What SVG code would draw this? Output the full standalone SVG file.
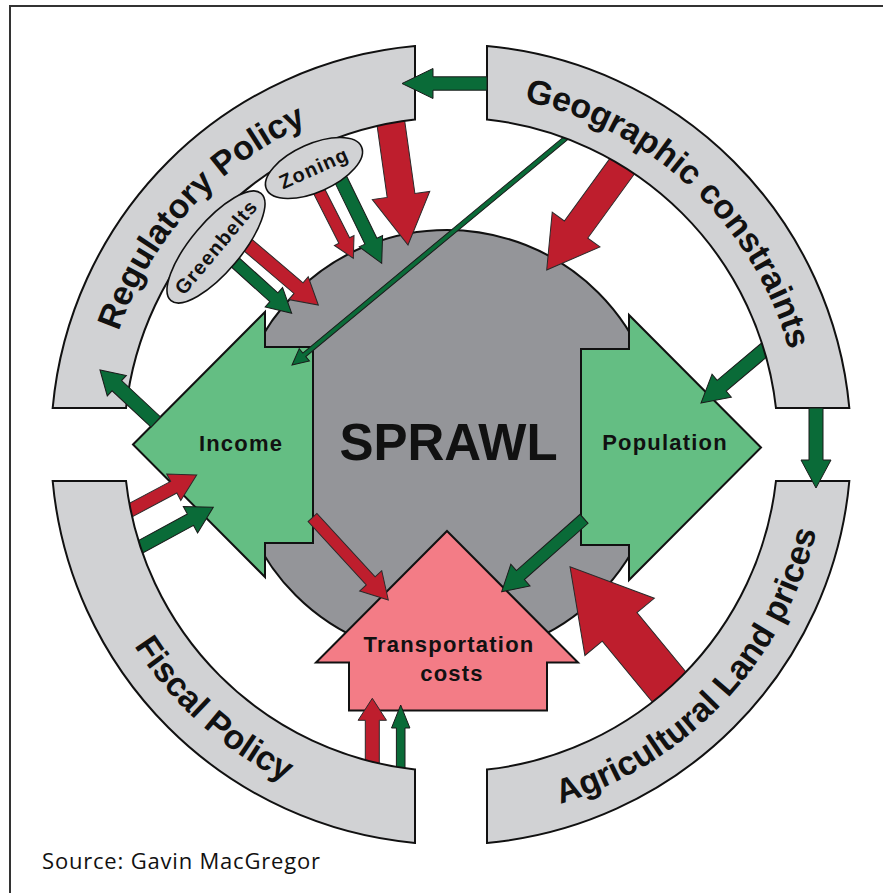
<svg xmlns="http://www.w3.org/2000/svg" width="883" height="893" viewBox="0 0 883 893">
  <style>
    .ring { fill: #D1D2D4; stroke: #111; stroke-width: 2; }
    .ringtxt { font-family: "Liberation Sans", Arial, sans-serif; font-weight: bold; font-size: 34px; fill: #111; }
    .hub { fill: #949599; stroke: #111; stroke-width: 2; }
    .gnode { fill: #64BE83; stroke: #111; stroke-width: 2; }
    .pnode { fill: #F37C86; stroke: #111; stroke-width: 2; }
    .lbl { font-family: "Liberation Sans", Arial, sans-serif; font-weight: bold; font-size: 22px; letter-spacing: 1.2px; fill: #111; text-anchor: middle; }
    .oval { fill: #D1D2D4; stroke: #111; stroke-width: 1.6; }
    .ovaltxt { font-family: "Liberation Sans", Arial, sans-serif; font-weight: bold; font-size: 20px; letter-spacing: 1.2px; fill: #111; text-anchor: middle; }
    .red { fill: #BE1E2D; stroke: #2a2a2a; stroke-width: 1; }
    .grn { fill: #0A6B38; stroke: #1a1a1a; stroke-width: 1; }
  </style>
  <defs>
    <path id="arc-reg" d="M100,444.5 A351,351 0 0,1 451,93.5"/>
    <path id="arc-geo" d="M451,93.5 A351,351 0 0,1 802,444.5"/>
    <path id="arc-agr" d="M451,820 A375.5,375.5 0 0,0 826.5,444.5"/>
    <path id="arc-fis" d="M75.5,444.5 A375.5,375.5 0 0,0 451,820"/>
  </defs>

  <rect x="10" y="6" width="900" height="900" fill="#fff" stroke="#333" stroke-width="2"/>

  <!-- central hub -->
  <g id="sprawl">
    <circle class="hub" cx="447" cy="444" r="214"/>
    <text x="448.5" y="460" font-family="Liberation Sans, Arial, sans-serif" font-weight="bold" font-size="51" fill="#111" text-anchor="middle">SPRAWL</text>
  </g>

  <g id="income">
    <polygon class="gnode" points="133,444.5 265,312 265,347 313,347 313,543 265,543 265,577"/>
    <text class="lbl" x="241" y="451">Income</text>
  </g>

  <g id="population">
    <polygon class="gnode" points="761,447.5 629,315 629,349 581,349 581,545 629,545 629,580"/>
    <text class="lbl" x="665" y="450">Population</text>
  </g>

  <g id="transportation">
    <polygon class="pnode" points="447,531 578,662.5 547,662.5 547,710.5 349,710.5 349,662.5 316,662.5"/>
    <text class="lbl" x="449" y="652">Transportation</text>
    <text class="lbl" x="452" y="681">costs</text>
  </g>

  <!-- connectors whose tails sit beneath the outer ring -->
  <g id="connectors-under">
    <polygon class="red" transform="translate(408 245) rotate(82)" points="0,0 -50,-29 -50,-14 -134,-14 -134,14 -50,14 -50,29"/>
    <polygon class="red" transform="translate(546.7 270) rotate(126)" points="0,0 -50,-29.5 -50,-14.5 -145,-14.5 -145,14.5 -50,14.5 -50,29.5"/>
    <polygon class="grn" transform="translate(701 403) rotate(140)" points="0,0 -27,-15 -27,-7 -100,-7 -100,7 -27,7 -27,15"/>
    <polygon class="grn" transform="translate(292 365) rotate(140.36)" points="0,0 -16,-8 -16,-2.3 -372,-2.3 -372,2.3 -16,2.3 -16,8"/>
    <polygon class="red" transform="translate(570 566.7) rotate(230.5)" points="0,0 -78,-45 -78,-22.5 -175,-22.5 -175,22.5 -78,22.5 -78,45"/>
    <polygon class="grn" transform="translate(501.7 591.7) rotate(138.5)" points="0,0 -25,-14.5 -25,-6 -110,-6 -110,6 -25,6 -25,14.5"/>
    <polygon class="red" transform="translate(388.3 600) rotate(47.4)" points="0,0 -26,-15 -26,-6 -112,-6 -112,6 -26,6 -26,15"/>
    <polygon class="red" transform="translate(196.7 475) rotate(-28)" points="0,0 -26,-15 -26,-6.6 -90,-6.6 -90,6.6 -26,6.6 -26,15"/>
    <polygon class="grn" transform="translate(213.3 507.3) rotate(-28.5)" points="0,0 -26,-15 -26,-6.5 -97,-6.5 -97,6.5 -26,6.5 -26,15"/>
    <polygon class="red" transform="translate(372.3 698.3) rotate(-90)" points="0,0 -22,-14.2 -22,-7 -82,-7 -82,7 -22,7 -22,14.2"/>
    <polygon class="grn" transform="translate(400.7 705) rotate(-90)" points="0,0 -23,-9.2 -23,-4.3 -80,-4.3 -80,4.3 -23,4.3 -23,9.2"/>
    <polygon class="red" transform="translate(353.3 258.3) rotate(63)" points="0,0 -20,-11 -20,-6 -80,-6 -80,6 -20,6 -20,11"/>
    <polygon class="grn" transform="translate(381.7 263.3) rotate(64)" points="0,0 -24.6,-13 -24.6,-6.7 -95,-6.7 -95,6.7 -24.6,6.7 -24.6,13"/>
    <polygon class="red" transform="translate(318.3 305) rotate(40.4)" points="0,0 -26,-15 -26,-7 -97,-7 -97,7 -26,7 -26,15"/>
    <polygon class="grn" transform="translate(291.7 313.3) rotate(42)" points="0,0 -24,-13 -24,-6 -80,-6 -80,6 -24,6 -24,13"/>
  </g>

  <!-- outer ring of influences -->
  <g id="regulatory-policy">
    <path class="ring" d="M52.67,408 A400,400 0 0,1 415,46.12 L415,119.49 A327,327 0 0,0 126.04,408 Z"/>
    <text class="ringtxt"><textPath href="#arc-reg" startOffset="47%" text-anchor="middle">Regulatory Policy</textPath></text>
  </g>
  <g id="geographic-constraints">
    <path class="ring" d="M487,46.12 A400,400 0 0,1 849.33,408 L775.96,408 A327,327 0 0,0 487,119.49 Z"/>
    <text class="ringtxt"><textPath href="#arc-geo" startOffset="48%" text-anchor="middle">Geographic constraints</textPath></text>
  </g>
  <g id="agricultural-land-prices">
    <path class="ring" d="M849.33,481 A400,400 0 0,1 487,842.88 L487,769.51 A327,327 0 0,0 775.96,481 Z"/>
    <text class="ringtxt" font-size="35.5"><textPath href="#arc-agr" startOffset="52%" text-anchor="middle">Agricultural Land prices</textPath></text>
  </g>
  <g id="fiscal-policy">
    <path class="ring" d="M415,842.88 A400,400 0 0,1 52.67,481 L126.04,481 A327,327 0 0,0 415,769.51 Z"/>
    <text class="ringtxt" font-size="36"><textPath href="#arc-fis" startOffset="53.5%" text-anchor="middle">Fiscal Policy</textPath></text>
  </g>

  <g id="zoning" transform="translate(314 168) rotate(-24)">
    <ellipse class="oval" cx="0" cy="0" rx="52" ry="24"/>
    <text class="ovaltxt" x="0" y="7">Zoning</text>
  </g>
  <g id="greenbelts" transform="translate(216 247) rotate(-50)">
    <ellipse class="oval" cx="0" cy="0" rx="70" ry="25"/>
    <text class="ovaltxt" x="0" y="7">Greenbelts</text>
  </g>

  <!-- connectors drawn over the ring -->
  <g id="connectors-over">
    <polygon class="grn" transform="translate(816 488) rotate(90)" points="0,0 -28,-15 -28,-7 -80,-7 -80,7 -28,7 -28,15"/>
    <polygon class="grn" transform="translate(402 83.5) rotate(180)" points="0,0 -31,-15 -31,-6.7 -85,-6.7 -85,6.7 -31,6.7 -31,15"/>
    <polygon class="grn" transform="translate(100 370) rotate(223)" points="0,0 -23,-14 -23,-7 -76.3,-7 -76.3,7 -23,7 -23,14"/>
  </g>

  <text x="42" y="869" font-family="Open Sans, Liberation Sans, sans-serif" font-size="22" fill="#111" textLength="278" lengthAdjust="spacing">Source: Gavin MacGregor</text>
</svg>
